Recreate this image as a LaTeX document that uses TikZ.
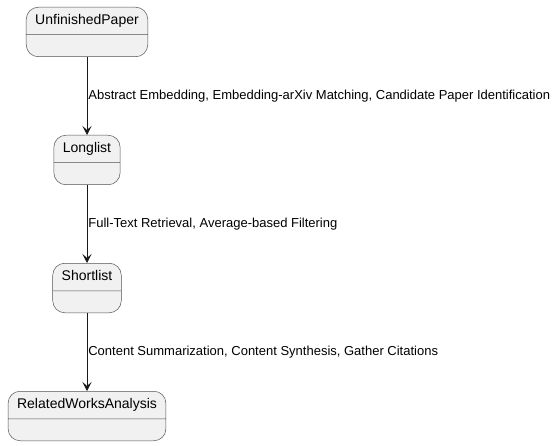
\documentclass[tikz,border=0pt]{standalone}
\usepackage{fontspec}
\setmainfont{Liberation Sans}
\usepackage{tikz}
\usetikzlibrary{arrows.meta, positioning, shapes.multipart}
\definecolor{stateline}{HTML}{181818}
\definecolor{statefill}{HTML}{F1F1F1}

\begin{document}
\begin{tikzpicture}[
        x=1pt, y=1pt,
        node distance=78pt,
        state/.style={draw=stateline!75, fill=statefill, rounded corners=12pt, rectangle split, rectangle split parts=2,
            rectangle split empty part height=7.5pt, rectangle split empty part depth=0pt,
            inner xsep=9pt, inner ysep=7pt, text height=10pt, text depth=3pt,
            font=\fontsize{14}{16}\selectfont, line width=0.5pt},
        arr/.style={-{Stealth[length=9pt, width=9pt, inset=4pt]}, draw=stateline, line width=0.7pt},
        lbl/.style={right, inner sep=1pt, font=\fontsize{13}{15}\selectfont},
    ]
    \useasboundingbox (0,0) rectangle (556,-446);

    %% States
    \node[state, anchor=north] (unfinished) at (87,-7) {UnfinishedPaper};
    \node[state, below=of unfinished] (longlist) {Longlist};
    \node[state, below=of longlist] (shortlist) {Shortlist};
    \node[state, below=of shortlist] (related) {RelatedWorksAnalysis};

    %% Transitions
    \draw[arr] (unfinished) -- node[lbl]{Abstract Embedding, Embedding-arXiv Matching, Candidate Paper Identification} (longlist);
    \draw[arr] (longlist) -- node[lbl]{Full-Text Retrieval, Average-based Filtering} (shortlist);
    \draw[arr] (shortlist) -- node[lbl]{Content Summarization, Content Synthesis, Gather Citations} (related);

\end{tikzpicture}
\end{document}
